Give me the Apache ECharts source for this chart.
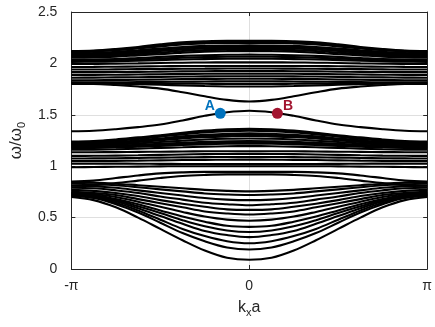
<!DOCTYPE html>
<html>
<head>
<meta charset="utf-8">
<script src="https://cdn.jsdelivr.net/npm/echarts@6/dist/echarts.min.js"></script>
<style>
  html, body { margin: 0; padding: 0; background: #fff; }
  #chart { width: 435px; height: 327px; }
</style>
</head>
<body>
<div id="chart"></div>
<script>
// k_x a / pi sample points from 0 to pi; the bands are symmetric in k
const kHalf = [0, 0.125, 0.25, 0.375, 0.5, 0.625, 0.75, 0.875, 1];
const xTickLabels = { '-1': '-π', '0': '0', '1': 'π' };

// upper cluster (about 1.6 - 2.2)
const upperBands = [
  [1.63, 1.645, 1.68, 1.72, 1.755, 1.775, 1.79, 1.80, 1.80],
  [2.22, 2.22, 2.215, 2.205, 2.185, 2.16, 2.14, 2.125, 2.12],
  [2.21, 2.21, 2.205, 2.195, 2.175, 2.152, 2.134, 2.12, 2.115],
  [2.20, 2.20, 2.195, 2.185, 2.165, 2.145, 2.128, 2.115, 2.11],
  [2.175, 2.174, 2.17, 2.16, 2.145, 2.128, 2.112, 2.10, 2.095],
  [2.162, 2.161, 2.157, 2.147, 2.132, 2.116, 2.101, 2.09, 2.085],
  [2.15, 2.149, 2.145, 2.135, 2.12, 2.105, 2.09, 2.08, 2.075],
  [2.135, 2.134, 2.13, 2.12, 2.105, 2.091, 2.078, 2.069, 2.065],
  [2.12, 2.119, 2.115, 2.105, 2.09, 2.078, 2.066, 2.058, 2.055],
  [2.085, 2.084, 2.08, 2.073, 2.063, 2.053, 2.043, 2.037, 2.035],
  [2.065, 2.064, 2.061, 2.055, 2.047, 2.039, 2.031, 2.026, 2.025],
  [2.045, 2.045, 2.042, 2.038, 2.032, 2.026, 2.02, 2.016, 2.015],
  [2.01, 2.01, 2.009, 2.007, 2.004, 2.0, 1.997, 1.995, 1.995],
  [1.975, 1.975, 1.975, 1.974, 1.972, 1.97, 1.968, 1.966, 1.965],
  [1.95, 1.95, 1.949, 1.948, 1.946, 1.944, 1.942, 1.94, 1.94],
  [1.925, 1.925, 1.924, 1.922, 1.92, 1.918, 1.916, 1.915, 1.915],
  [1.90, 1.90, 1.899, 1.897, 1.895, 1.892, 1.89, 1.888, 1.888],
  [1.875, 1.875, 1.874, 1.872, 1.869, 1.866, 1.864, 1.862, 1.86],
  [1.85, 1.85, 1.849, 1.847, 1.844, 1.841, 1.838, 1.836, 1.835],
  [1.825, 1.825, 1.824, 1.822, 1.82, 1.818, 1.816, 1.815, 1.815],
  [1.80, 1.80, 1.802, 1.804, 1.806, 1.808, 1.81, 1.81, 1.81],
  [1.775, 1.776, 1.78, 1.786, 1.792, 1.798, 1.802, 1.805, 1.805]
];

// isolated band carrying A and B
const isolatedBand = [1.54, 1.525, 1.49, 1.445, 1.405, 1.38, 1.36, 1.345, 1.34];

// middle cluster (about 0.8 - 1.37)
const middleBands = [
  [1.365, 1.36, 1.346, 1.326, 1.30, 1.28, 1.26, 1.245, 1.24],
  [1.355, 1.35, 1.337, 1.318, 1.294, 1.273, 1.254, 1.24, 1.235],
  [1.345, 1.34, 1.328, 1.31, 1.288, 1.266, 1.248, 1.235, 1.23],
  [1.32, 1.316, 1.305, 1.29, 1.27, 1.25, 1.235, 1.224, 1.22],
  [1.307, 1.303, 1.293, 1.28, 1.261, 1.243, 1.228, 1.218, 1.215],
  [1.295, 1.29, 1.282, 1.27, 1.252, 1.236, 1.222, 1.213, 1.21],
  [1.27, 1.267, 1.26, 1.248, 1.235, 1.222, 1.21, 1.203, 1.20],
  [1.245, 1.243, 1.237, 1.228, 1.218, 1.207, 1.198, 1.192, 1.19],
  [1.232, 1.23, 1.225, 1.217, 1.208, 1.198, 1.19, 1.185, 1.183],
  [1.22, 1.218, 1.213, 1.206, 1.198, 1.189, 1.182, 1.177, 1.175],
  [1.195, 1.194, 1.19, 1.184, 1.178, 1.171, 1.165, 1.161, 1.16],
  [1.146, 1.146, 1.145, 1.143, 1.141, 1.139, 1.137, 1.136, 1.135],
  [1.12, 1.119, 1.117, 1.114, 1.11, 1.106, 1.103, 1.101, 1.10],
  [1.09, 1.09, 1.088, 1.086, 1.083, 1.08, 1.077, 1.076, 1.075],
  [1.064, 1.063, 1.062, 1.06, 1.057, 1.054, 1.052, 1.05, 1.05],
  [1.02, 1.02, 1.021, 1.022, 1.023, 1.024, 1.025, 1.025, 1.025],
  [1.0, 1.0, 1.0, 1.0, 0.998, 0.996, 0.994, 0.992, 0.99],
  [0.945, 0.945, 0.945, 0.94, 0.93, 0.91, 0.885, 0.86, 0.85],
  [0.92, 0.92, 0.915, 0.905, 0.885, 0.86, 0.835, 0.815, 0.81]
];

// lower fan (minimum ~0.09 at k = 0)
const lowerBands = [
  [0.09, 0.11, 0.18, 0.28, 0.39, 0.50, 0.60, 0.67, 0.70],
  [0.19, 0.21, 0.27, 0.35, 0.45, 0.55, 0.63, 0.69, 0.71],
  [0.25, 0.27, 0.32, 0.39, 0.48, 0.57, 0.645, 0.695, 0.715],
  [0.31, 0.33, 0.37, 0.44, 0.515, 0.59, 0.66, 0.705, 0.72],
  [0.36, 0.375, 0.415, 0.475, 0.545, 0.61, 0.67, 0.71, 0.725],
  [0.41, 0.42, 0.46, 0.51, 0.57, 0.63, 0.68, 0.72, 0.73],
  [0.47, 0.48, 0.51, 0.555, 0.605, 0.655, 0.70, 0.73, 0.74],
  [0.53, 0.54, 0.56, 0.60, 0.64, 0.68, 0.72, 0.74, 0.75],
  [0.575, 0.58, 0.605, 0.635, 0.67, 0.71, 0.74, 0.76, 0.77],
  [0.62, 0.63, 0.645, 0.675, 0.705, 0.74, 0.765, 0.785, 0.79],
  [0.67, 0.675, 0.69, 0.715, 0.74, 0.765, 0.79, 0.805, 0.81],
  [0.72, 0.725, 0.735, 0.755, 0.775, 0.795, 0.815, 0.825, 0.83],
  [0.755, 0.76, 0.77, 0.785, 0.80, 0.815, 0.83, 0.84, 0.845]
];

const pointA = [-0.163, 1.514];
const pointB = [0.158, 1.514];

const FONT = 'Liberation Sans, Arial, sans-serif';
const AXIS_COLOR = '#262626';

// mirror half band onto -pi..pi
function fullBand(vals) {
  const pts = [];
  for (let i = kHalf.length - 1; i > 0; i--) pts.push([-kHalf[i], vals[i]]);
  for (let i = 0; i < kHalf.length; i++) pts.push([kHalf[i], vals[i]]);
  return pts;
}

const allBands = [].concat(upperBands, [isolatedBand], middleBands, lowerBands);

const series = allBands.map(b => ({
  type: 'line',
  data: fullBand(b),
  smooth: 0.35,
  symbol: 'none',
  lineStyle: { color: '#000', width: 2.1 },
  silent: true,
  z: 2
}));

function markerSeries(pt, name, color, side) {
  return {
    type: 'scatter',
    data: [pt],
    symbolSize: 11,
    itemStyle: { color: color, opacity: 1 },
    z: 5,
    label: {
      show: true,
      formatter: name,
      position: side,
      distance: 0,
      offset: [0, -7],
      color: color,
      fontWeight: 'bold',
      fontSize: 14,
      fontFamily: FONT
    }
  };
}
series.push(markerSeries(pointA, 'A', '#0072BD', 'left'));
series.push(markerSeries(pointB, 'B', '#A2142F', 'right'));

const chart = echarts.init(document.getElementById('chart'), null, { renderer: 'canvas' });
chart.setOption({
  animation: false,
  backgroundColor: '#fff',
  grid: { left: 63, right: 5, top: 12, bottom: 58 },
  xAxis: [
    {
      type: 'value', min: -1, max: 1, interval: 1,
      name: '{m|k}{s|x}{m|a}',
      nameLocation: 'middle', nameGap: 28,
      nameTextStyle: {
        rich: {
          m: { fontSize: 16, fontFamily: FONT, color: AXIS_COLOR },
          s: { fontSize: 11, fontFamily: FONT, color: AXIS_COLOR, padding: [10, 0, 0, 0] }
        }
      },
      axisLine: { onZero: false, lineStyle: { color: AXIS_COLOR } },
      axisTick: { inside: true, length: 4, lineStyle: { color: AXIS_COLOR } },
      axisLabel: {
        formatter: v => xTickLabels[String(v)],
        fontSize: 14, fontFamily: FONT, color: AXIS_COLOR, margin: 10
      },
      splitLine: { show: true, lineStyle: { color: '#dfdfdf' } }
    },
    {
      type: 'value', min: -1, max: 1, interval: 1, position: 'top',
      axisLine: { show: true, onZero: false, lineStyle: { color: AXIS_COLOR } },
      axisTick: { inside: true, length: 4, lineStyle: { color: AXIS_COLOR } },
      axisLabel: { show: false },
      splitLine: { show: false }
    }
  ],
  yAxis: [
    {
      type: 'value', min: 0, max: 2.5, interval: 0.5,
      name: '{m|ω/ω}{s|0}',
      nameLocation: 'middle', nameGap: 32,
      nameTextStyle: {
        rich: {
          m: { fontSize: 17, fontFamily: FONT, color: AXIS_COLOR },
          s: { fontSize: 11, fontFamily: FONT, color: AXIS_COLOR, padding: [10, 0, 0, 0] }
        }
      },
      axisLine: { show: true, onZero: false, lineStyle: { color: AXIS_COLOR } },
      axisTick: { show: true, inside: true, length: 4, lineStyle: { color: AXIS_COLOR } },
      axisLabel: { fontSize: 14, fontFamily: FONT, color: AXIS_COLOR, margin: 14 },
      splitLine: { show: true, lineStyle: { color: '#dfdfdf' } }
    },
    {
      type: 'value', min: 0, max: 2.5, interval: 0.5, position: 'right',
      axisLine: { show: true, onZero: false, lineStyle: { color: AXIS_COLOR } },
      axisTick: { show: true, inside: true, length: 4, lineStyle: { color: AXIS_COLOR } },
      axisLabel: { show: false },
      splitLine: { show: false }
    }
  ],
  series: series
});
</script>
</body>
</html>
